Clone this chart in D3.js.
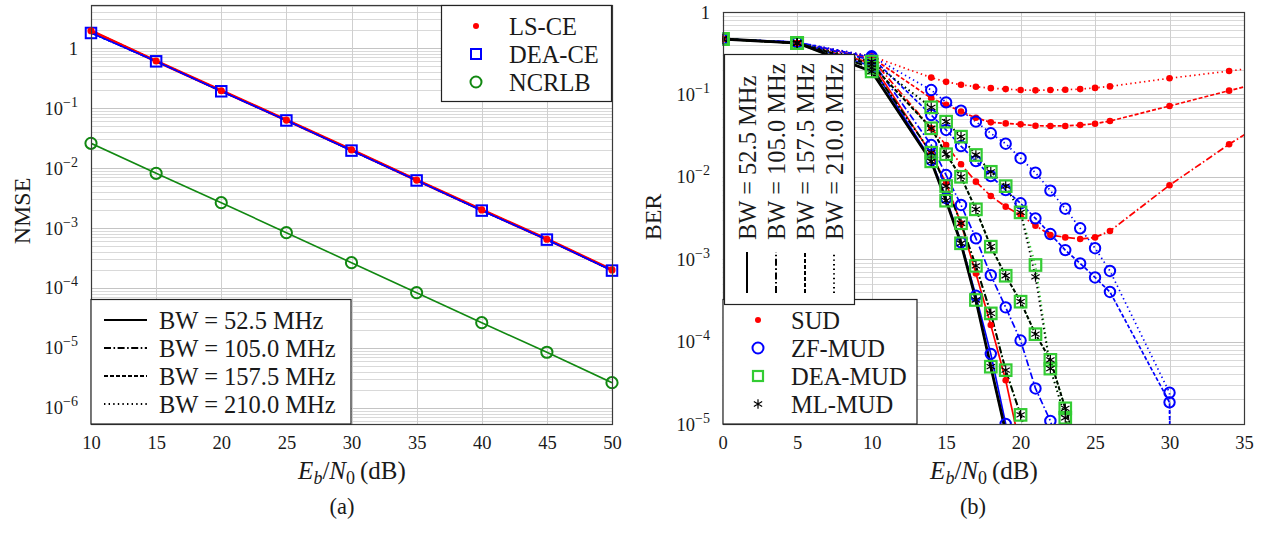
<!DOCTYPE html>
<html><head><meta charset="utf-8">
<script src="https://cdn.jsdelivr.net/npm/d3@7"></script>
<style>
body{margin:0;background:#fff;}
svg{display:block;}
</style></head><body>
<svg id="c" width="1264" height="543"></svg>
<script>
// ---------------- DATA (a): NMSE ----------------
const nmseX = [10,15,20,25,30,35,40,45,50];
const lsCE  = [1.94,0.607,0.194,0.063,0.020,0.0063,0.0020,0.00065,0.00020];
const deaCE = [1.78,0.600,0.190,0.062,0.0195,0.0062,0.00195,0.00064,0.000195];
const ncrlb = [0.0258,0.00815,0.00264,0.000836,0.000264,0.0000836,0.0000264,0.0000085,0.00000264];
const nmseTicksX = [10,15,20,25,30,35,40,45,50];
const nmseTicksY = [0,-1,-2,-3,-4,-5,-6];
const bwLabels = ["BW = 52.5 MHz","BW = 105.0 MHz","BW = 157.5 MHz","BW = 210.0 MHz"];
const ceLabels = ["LS-CE","DEA-CE","NCRLB"];

// ---------------- DATA (b): BER ----------------
const berX = [0,5,10,14,15,16,17,18,19,20,21,22,23,24,25,26,30,34,38];
const sud52  = [0.47,0.42,0.24,0.019,0.0084,0.0027,0.00067,0.000159,0.000034,0.000005,null,null,null,null,null,null,null,null,null];
const sud105 = [0.47,0.42,0.27,0.0388,0.0243,0.0142,0.00873,0.00585,0.00434,0.00344,0.00255,0.00197,0.00184,0.00176,0.00184,0.0022,0.0079,0.0248,0.070];
const sud157 = [0.47,0.42,0.28,0.090,0.075,0.062,0.052,0.0458,0.0445,0.0433,0.0417,0.0414,0.0414,0.0425,0.0441,0.0475,0.0723,0.111,0.170];
const sud210 = [0.47,0.42,0.29,0.160,0.142,0.131,0.124,0.119,0.116,0.113,0.112,0.113,0.114,0.116,0.120,0.125,0.157,0.192,0.238];
const zf52  = [0.47,0.43,0.22,0.016,0.0055,0.0016,0.00036,0.000071,0.00001,0.000001,null,null,null,null,null,null,null,null,null];
const zf105 = [0.47,0.43,0.26,0.0243,0.0105,0.00455,0.00179,0.00064,0.00026,0.000103,0.000027,0.0000109,0.000003,null,null,null,null,null,null];
const zf157 = [0.47,0.43,0.28,0.0562,0.037,0.0236,0.0155,0.0102,0.0069,0.00477,0.00313,0.00202,0.00129,0.00089,0.0006,0.0004,0.0000183,1e-100,null];
const zf210 = [0.47,0.43,0.29,0.113,0.080,0.0635,0.0467,0.0337,0.0252,0.0168,0.0112,0.0068,0.0041,0.00237,0.00136,0.00072,0.000024,1e-100,null];
const dea52  = [0.47,0.42,0.19,0.0154,0.00513,0.00156,0.00032,0.0000496,0.000008,null,null,null,null,null,null,null,null,null,null];
const dea105 = [0.47,0.42,0.21,0.0196,0.00773,0.00273,0.00083,0.00022,0.000045,0.0000129,0.000003,null,null,null,null,null,null,null,null];
const dea157 = [0.47,0.42,0.23,0.0388,0.0188,0.0100,0.00403,0.00142,0.00063,0.000305,0.000123,0.00006,0.0000155,0.000004,null,null,null,null,null];
const dea210 = [0.47,0.42,0.25,0.0697,0.0467,0.0307,0.0184,0.0115,0.0077,0.0037,0.00085,0.000047,0.0000119,0.000003,null,null,null,null,null];
const ml52  = [0.47,0.42,0.19,0.0154,0.00513,0.00156,0.00032,0.0000496,0.000008,null,null,null,null,null,null,null,null,null,null];
const ml105 = [0.47,0.42,0.21,0.0196,0.00773,0.00273,0.00083,0.00022,0.000045,0.0000129,0.000003,null,null,null,null,null,null,null,null];
const ml157 = [0.47,0.42,0.23,0.0388,0.0188,0.0100,0.00403,0.00142,0.00063,0.000305,0.000123,0.00006,0.0000155,0.000004,null,null,null,null,null];
const ml210 = [0.47,0.42,0.25,0.0697,0.0467,0.0307,0.0184,0.0115,0.0077,0.0037,0.00061,0.000047,0.0000119,0.000003,null,null,null,null,null];
const berTicksX = [0,5,10,15,20,25,30,35];
const berTicksY = [0,-1,-2,-3,-4,-5];
const mudLabels = ["SUD","ZF-MUD","DEA-MUD","ML-MUD"];

// ---------------- RENDER ----------------
const FONT = '"Liberation Serif","Times New Roman",Times,serif';
const TXT = "#1a1a1a";
const svg = d3.select("#c").attr("font-family", FONT);
const dashes = [null, "7,2.5,1.6,2.5", "4,2", "1.4,3.2"];
const RED="#ff0000", BLUE="#0000ff", GREEN="#33cc33", DGREEN="#118811", BLACK="#000000";
const LGF = 24.5;

function snap(v){ return Math.round(v)+0.5; }

function drawGrid(g, x, y, xticks){
  const [x0,x1]=x.range(), [yb,yt]=y.range();
  const [lo,hi]=y.domain();
  const vals=[];
  for(let e=-8;e<=1;e++) for(let k=1;k<10;k++){const v=k*Math.pow(10,e); if(v>=lo*0.999&&v<=hi*1.001) vals.push({v,major:k===1});}
  g.append("g").selectAll("line").data(vals).join("line")
    .attr("x1",x0).attr("x2",x1).attr("y1",d=>snap(y(d.v))).attr("y2",d=>snap(y(d.v)))
    .attr("stroke",d=>d.major?"#c4c4c4":"#d9d9d9").attr("stroke-width",1);
  g.append("g").selectAll("line").data(xticks).join("line")
    .attr("y1",yb).attr("y2",yt).attr("x1",d=>snap(x(d))).attr("x2",d=>snap(x(d)))
    .attr("stroke","#cfcfcf").attr("stroke-width",1);
}
function drawFrame(g,x,y){
  const [x0,x1]=x.range(), [yb,yt]=y.range();
  g.append("rect").attr("x",snap(x0)).attr("y",snap(yt)).attr("width",Math.round(x1-x0)).attr("height",Math.round(yb-yt))
    .attr("fill","none").attr("stroke","#3a3a3a").attr("stroke-width",1.2);
}
function xAxis(g,x,y,ticks){
  const ax=d3.axisBottom(x).tickValues(ticks).tickSize(0).tickPadding(0).tickFormat(d3.format("d"));
  const a=g.append("g").attr("transform",`translate(0,${y.range()[0]})`).call(ax);
  a.attr("font-family",FONT);
  a.select(".domain").remove();
  a.selectAll("text").attr("y",25).attr("dy",null).attr("font-size",18.5).attr("fill",TXT).attr("font-family",FONT);
}
function yAxisLog(g,x,y,exps,xr){
  const ax=d3.axisLeft(y).tickValues(exps.map(e=>Math.pow(10,e))).tickSize(0).tickFormat("");
  const a=g.append("g").attr("transform",`translate(${x.range()[0]},0)`).call(ax);
  a.attr("font-family",FONT);
  a.select(".domain").remove();
  a.selectAll(".tick").each(function(d){
    const e=Math.round(Math.log10(d));
    const t=d3.select(this).append("text").attr("text-anchor","end").attr("x",xr-x.range()[0])
      .attr("y",6).attr("fill",TXT).attr("font-size",18.5).attr("font-family",FONT);
    if(e===0){ t.text("1"); }
    else { t.append("tspan").text("10"); t.append("tspan").attr("dy",-8).attr("font-size",14).text("\u2212"+(-e)); }
  });
}
function ebTitle(g,cx,by){
  const t=g.append("text").attr("x",cx).attr("y",by).attr("text-anchor","middle").attr("font-size",25).attr("fill",TXT).attr("font-family",FONT);
  t.append("tspan").attr("font-style","italic").text("E");
  t.append("tspan").attr("font-style","italic").attr("font-size",18).attr("dy",5).text("b");
  t.append("tspan").attr("dy",-5).text("/");
  t.append("tspan").attr("font-style","italic").text("N");
  t.append("tspan").attr("font-size",18).attr("dy",5).text("0");
  t.append("tspan").attr("dy",-5).text("\u2009(dB)");
}
function marker(sel,type,size){
  if(type==="dot") sel.append("circle").attr("r",size||3.3).attr("fill",RED);
  else if(type==="circ") sel.append("circle").attr("r",size||5.2).attr("fill","none").attr("stroke",BLUE).attr("stroke-width",2);
  else if(type==="gcirc") sel.append("circle").attr("r",size||5.5).attr("fill","none").attr("stroke",DGREEN).attr("stroke-width",2);
  else if(type==="bsq"){const s=size||10; sel.append("rect").attr("x",-s/2).attr("y",-s/2).attr("width",s).attr("height",s).attr("fill","none").attr("stroke",BLUE).attr("stroke-width",2);}
  else if(type==="gsq"){const s=size||11.5; sel.append("rect").attr("x",-s/2).attr("y",-s/2).attr("width",s).attr("height",s).attr("fill","none").attr("stroke",GREEN).attr("stroke-width",2.2);}
  else if(type==="ast"){const r=size||4.8; const p=[];
    for(const a of [90,30,150]){const c=Math.cos(a*Math.PI/180)*r,s=Math.sin(a*Math.PI/180)*r;p.push(`M${-c},${-s}L${c},${s}`);}
    sel.append("path").attr("d",p.join("")).attr("stroke",BLACK).attr("stroke-width",1.2).attr("fill","none");}
}

// ===== Panel (a) =====
const xL=d3.scaleLinear().domain([10,50]).range([91,612]);
const yL=d3.scaleLog().domain([5.41e-7,5.21]).range([424,5]);
const gA=svg.append("g");
drawGrid(gA,xL,yL,nmseTicksX);
svg.append("clipPath").attr("id","clipA").append("rect").attr("x",91).attr("y",5).attr("width",521).attr("height",419);
const pA=gA.append("g").attr("clip-path","url(#clipA)");
const lineL=d3.line().x(d=>xL(d[0])).y(d=>yL(d[1]));
const ptsLS=nmseX.map((x,i)=>[x,lsCE[i]]), ptsDEA=nmseX.map((x,i)=>[x,deaCE[i]]), ptsNC=nmseX.map((x,i)=>[x,ncrlb[i]]);
dashes.forEach((da,i)=>{ pA.append("path").attr("d",lineL(ptsLS)).attr("fill","none").attr("stroke",RED).attr("stroke-width",i===0?3:1.8).attr("stroke-dasharray",da); });
dashes.forEach((da,i)=>{ pA.append("path").attr("d",lineL(ptsDEA)).attr("fill","none").attr("stroke",BLUE).attr("stroke-width",1.4).attr("stroke-dasharray",da); });
pA.append("path").attr("d",lineL(ptsNC)).attr("fill","none").attr("stroke",DGREEN).attr("stroke-width",1.6);
const mkA=gA.append("g");
ptsDEA.forEach(p=>marker(mkA.append("g").attr("transform",`translate(${xL(p[0])},${yL(p[1])})`),"bsq",10.5));
ptsLS.forEach(p=>marker(mkA.append("g").attr("transform",`translate(${xL(p[0])},${yL(p[1])})`),"dot",3.6));
ptsNC.forEach(p=>marker(mkA.append("g").attr("transform",`translate(${xL(p[0])},${yL(p[1])})`),"gcirc",5.6));
drawFrame(gA,xL,yL);
xAxis(gA,xL,yL,nmseTicksX);
yAxisLog(gA,xL,yL,nmseTicksY,78);
ebTitle(gA,352,479);
gA.append("text").attr("transform","translate(30,211) rotate(-90)").attr("text-anchor","middle").attr("font-size",24).attr("fill",TXT).text("NMSE");
gA.append("text").attr("x",342).attr("y",514).attr("text-anchor","middle").attr("font-size",22.5).attr("fill",TXT).text("(a)");

// legend (a) top
const lgA1=gA.append("g");
lgA1.append("rect").attr("x",441.5).attr("y",5.5).attr("width",170).attr("height",96).attr("fill","#fff").attr("stroke","#222").attr("stroke-width",1.2);
const ceMk=["dot","bsq","gcirc"], ceY=[26,54,82];
ceLabels.forEach((l,i)=>{
  marker(lgA1.append("g").attr("transform",`translate(476,${ceY[i]})`),ceMk[i],[3,10,5.5][i]);
  lgA1.append("text").attr("x",509).attr("y",ceY[i]).attr("dy","0.35em").attr("font-size",LGF).attr("fill",TXT).text(l);
});
// legend (a) bottom
const lgA2=gA.append("g");
lgA2.append("rect").attr("x",91).attr("y",299.5).attr("width",260).attr("height",124.5).attr("fill","#fff").attr("stroke","#222").attr("stroke-width",1.2);
const bwY=[320,348,376,404];
bwLabels.forEach((l,i)=>{
  lgA2.append("line").attr("x1",104).attr("x2",147).attr("y1",bwY[i]).attr("y2",bwY[i]).attr("stroke",BLACK).attr("stroke-width",2).attr("stroke-dasharray",dashes[i]);
  lgA2.append("text").attr("x",159).attr("y",bwY[i]).attr("dy","0.35em").attr("font-size",LGF).attr("fill",TXT).text(l);
});

// ===== Panel (b) =====
const xR=d3.scaleLinear().domain([0,35]).range([722.7,1244]);
const yR=d3.scaleLog().domain([1e-5,1]).range([424,12]);
const gB=svg.append("g");
drawGrid(gB,xR,yR,berTicksX);
svg.append("clipPath").attr("id","clipB").append("rect").attr("x",722.7).attr("y",12).attr("width",521.3).attr("height",412);
const pB=gB.append("g").attr("clip-path","url(#clipB)");
const lineR=d3.line().defined(d=>d[1]!=null).x(d=>xR(d[0])).y(d=>Math.min(yR(d[1]),20000));
const groups=[
  {arrs:[sud52,sud105,sud157,sud210], color:RED, mk:"dot", w:1.7},
  {arrs:[zf52,zf105,zf157,zf210], color:BLUE, mk:"circ", w:1.7},
  {arrs:[dea52,dea105,dea157,dea210], color:GREEN, mk:"gsq", w:1.8},
  {arrs:[ml52,ml105,ml157,ml210], color:BLACK, mk:"ast", w:1.9}
];
groups.forEach(G=>G.arrs.forEach((arr,i)=>{
  const pts=berX.map((x,j)=>[x,arr[j]]);
  pB.append("path").attr("d",lineR(pts)).attr("fill","none").attr("stroke",G.color)
    .attr("stroke-width",(G.mk==="ast"&&i===0)?2.8:G.w).attr("stroke-dasharray",dashes[i]);
}));
groups.forEach(G=>G.arrs.forEach(arr=>{
  berX.forEach((x,j)=>{ const v=arr[j]; if(v==null||v<1e-20) return;
    marker(pB.append("g").attr("transform",`translate(${xR(x)},${yR(v)})`),G.mk); });
}));
drawFrame(gB,xR,yR);
xAxis(gB,xR,yR,berTicksX);
yAxisLog(gB,xR,yR,berTicksY,710);
ebTitle(gB,984,479);
gB.append("text").attr("transform","translate(661,217) rotate(-90)").attr("text-anchor","middle").attr("font-size",24).attr("fill",TXT).text("BER");
gB.append("text").attr("x",973).attr("y",514).attr("text-anchor","middle").attr("font-size",22.5).attr("fill",TXT).text("(b)");

// legend (b) markers
const lgB2=gB.append("g");
lgB2.append("rect").attr("x",723).attr("y",299.5).attr("width",194).attr("height",124.5).attr("fill","#fff").attr("stroke","#222").attr("stroke-width",1.2);
const mudMk=["dot","circ","gsq","ast"];
mudLabels.forEach((l,i)=>{
  marker(lgB2.append("g").attr("transform",`translate(758,${bwY[i]})`),mudMk[i],[3,5.5,10,4.8][i]);
  lgB2.append("text").attr("x",791).attr("y",bwY[i]).attr("dy","0.35em").attr("font-size",LGF).attr("fill",TXT).text(l);
});
// legend (b) rotated BW
const lgB1=gB.append("g");
lgB1.append("rect").attr("x",724.5).attr("y",54.5).attr("width",130).attr("height",250).attr("fill","#fff").attr("stroke","#222").attr("stroke-width",1.2);
const bwX=[747,776,805,834];
bwLabels.forEach((l,i)=>{
  lgB1.append("line").attr("x1",bwX[i]).attr("x2",bwX[i]).attr("y1",293).attr("y2",252).attr("stroke",BLACK).attr("stroke-width",2).attr("stroke-dasharray",dashes[i]);
  lgB1.append("text").attr("transform",`translate(${bwX[i]},240) rotate(-90)`).attr("dy","0.35em").attr("font-size",LGF).attr("fill",TXT).text(l);
});
</script>
</body></html>
